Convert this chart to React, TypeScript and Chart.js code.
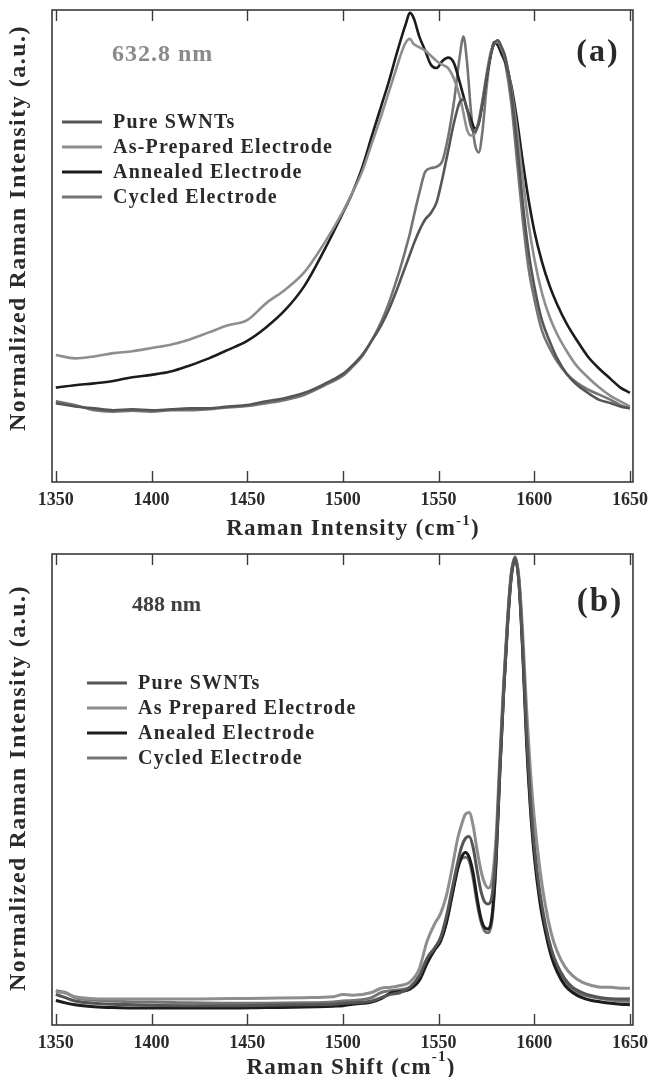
import React, { useEffect, useRef } from "react";
import { Chart, registerables } from "chart.js";

Chart.register(...registerables);

const FONT = '"Liberation Serif", "Times New Roman", Times, serif';

// ---------- shared ----------
const xTicks = [1350, 1400, 1450, 1500, 1550, 1600, 1650];
const seriesColors = ["#555555", "#8e8e8e", "#1c1c1c", "#747474"];

// ---------- panel (a): 632.8 nm ----------
const labelsA = ["Pure SWNTs", "As-Prepared Electrode", "Annealed Electrode", "Cycled Electrode"];
const shiftA = [1350, 1360, 1370, 1380, 1390, 1400, 1410, 1420, 1430, 1440, 1450, 1460, 1470, 1480, 1490, 1500, 1505, 1510, 1515, 1520, 1524, 1528, 1531, 1533, 1535, 1537, 1540, 1543, 1546, 1549, 1552, 1555, 1558, 1561, 1563, 1565, 1567, 1569, 1571, 1573, 1575, 1577, 1579, 1581, 1583, 1585, 1588, 1591, 1594, 1597, 1600, 1604, 1608, 1612, 1617, 1622, 1628, 1634, 1640, 1645, 1650];
const pureA = [16.7, 16.0, 15.6, 15.2, 15.4, 15.2, 15.4, 15.6, 15.6, 16.0, 16.3, 17.1, 17.8, 18.9, 20.7, 22.9, 24.7, 26.9, 29.9, 33.2, 36.5, 40.5, 43.8, 46.0, 48.2, 50.4, 53.3, 55.6, 57.0, 59.3, 64.3, 70.1, 76.0, 80.4, 81.1, 78.9, 75.3, 74.2, 76.0, 80.4, 85.5, 89.9, 92.8, 93.6, 92.1, 89.9, 82.6, 71.6, 59.2, 48.9, 41.6, 34.3, 29.9, 26.2, 22.9, 20.7, 18.9, 17.4, 16.7, 16.0, 15.6];
const asPrepA = [26.9, 26.2, 26.6, 27.3, 27.7, 28.4, 29.1, 30.2, 31.7, 33.2, 34.3, 37.9, 40.8, 44.5, 50.4, 57.3, 61.3, 65.7, 71.6, 77.5, 82.6, 87.7, 91.4, 93.2, 93.9, 92.8, 92.1, 91.4, 90.3, 89.2, 88.4, 87.7, 85.5, 81.8, 78.2, 74.5, 73.4, 73.8, 76.7, 81.1, 86.2, 90.6, 92.8, 93.2, 91.7, 89.5, 83.3, 74.5, 64.3, 54.8, 47.4, 40.1, 35.0, 31.3, 27.7, 24.7, 22.2, 20.0, 18.2, 17.1, 16.0];
const annealedA = [20.0, 20.5, 20.9, 21.4, 22.2, 22.7, 23.4, 24.7, 26.2, 28.0, 29.9, 32.8, 36.5, 41.6, 48.9, 57.0, 61.3, 66.5, 73.1, 79.6, 84.8, 90.6, 94.7, 97.2, 99.4, 98.3, 94.3, 91.4, 88.4, 87.7, 89.2, 89.9, 88.8, 84.8, 81.8, 78.9, 76.7, 74.9, 76.0, 80.4, 85.5, 89.9, 93.2, 92.5, 90.6, 88.8, 84.0, 76.7, 67.9, 59.9, 53.3, 46.7, 41.6, 37.6, 33.5, 30.2, 26.6, 24.0, 21.8, 20.0, 18.9];
const cycledA = [17.1, 16.3, 15.2, 14.9, 15.1, 14.9, 15.2, 15.2, 15.4, 15.8, 16.1, 16.7, 17.4, 18.5, 20.4, 22.5, 24.4, 26.6, 29.9, 33.9, 37.9, 42.7, 46.7, 49.6, 52.6, 56.2, 61.3, 65.7, 66.5, 66.8, 68.0, 73.1, 80.4, 89.9, 94.4, 88.4, 78.2, 71.6, 69.8, 74.5, 83.3, 89.9, 92.8, 93.2, 91.7, 88.4, 80.4, 68.0, 55.6, 45.4, 38.9, 32.1, 28.4, 25.5, 22.9, 21.1, 19.6, 18.5, 17.4, 16.3, 15.6];

// ---------- panel (b): 488 nm ----------
const labelsB = ["Pure SWNTs", "As Prepared Electrode", "Anealed Electrode", "Cycled Electrode"];
const shiftB = [1350, 1355, 1360, 1370, 1380, 1390, 1400, 1420, 1440, 1460, 1480, 1495, 1500, 1505, 1515, 1520, 1525, 1530, 1535, 1540, 1544, 1548, 1551, 1554, 1557, 1560, 1562, 1564, 1566, 1568, 1570, 1572, 1574, 1576, 1578, 1580, 1582, 1584, 1586, 1588, 1590, 1592, 1594, 1596, 1598, 1600, 1603, 1606, 1609, 1612, 1616, 1620, 1625, 1630, 1635, 1640, 1645, 1650];
const pureB = [6.5, 5.8, 5.1, 4.6, 4.4, 4.3, 4.2, 4.1, 4.1, 4.2, 4.3, 4.4, 4.6, 4.7, 5.1, 5.8, 6.5, 6.9, 8.0, 10.5, 14.2, 16.4, 18.5, 22.9, 28.7, 34.5, 37.8, 39.6, 40.0, 37.8, 33.1, 28.7, 26.2, 25.7, 27.6, 36.5, 54.5, 71.0, 85.0, 95.5, 99.1, 94.0, 80.0, 62.0, 48.0, 38.0, 28.0, 21.0, 16.0, 12.7, 9.8, 8.0, 6.9, 6.2, 5.8, 5.6, 5.5, 5.5];
const asPrepB = [7.1, 6.8, 6.0, 5.6, 5.5, 5.5, 5.5, 5.5, 5.6, 5.7, 5.8, 6.0, 6.5, 6.3, 6.9, 7.8, 8.0, 8.4, 9.1, 12.0, 17.8, 21.5, 23.6, 27.3, 33.1, 39.6, 42.5, 44.7, 45.1, 42.5, 37.5, 33.1, 30.2, 29.1, 30.9, 39.5, 56.5, 72.5, 86.0, 96.0, 99.0, 95.0, 83.0, 67.0, 54.0, 44.0, 33.0, 25.0, 19.3, 15.6, 12.4, 10.5, 9.1, 8.4, 8.0, 8.0, 7.8, 7.8];
const annealedB = [5.2, 4.7, 4.3, 3.9, 3.7, 3.6, 3.6, 3.6, 3.6, 3.7, 3.8, 4.0, 4.1, 4.4, 4.9, 5.6, 6.8, 7.1, 7.6, 9.5, 13.1, 16.0, 17.8, 21.5, 27.3, 33.1, 35.6, 36.6, 35.6, 32.4, 27.3, 22.9, 20.7, 20.4, 23.3, 34.5, 53.5, 70.5, 84.5, 95.0, 98.9, 94.0, 79.0, 60.0, 46.0, 36.0, 26.0, 19.5, 14.5, 11.3, 8.4, 6.9, 5.8, 5.2, 4.9, 4.6, 4.4, 4.3];
const cycledB = [7.3, 6.9, 5.8, 5.3, 5.1, 4.9, 4.9, 4.7, 4.6, 4.6, 4.7, 4.9, 5.1, 5.2, 5.8, 6.9, 7.3, 7.5, 8.0, 10.2, 13.8, 16.0, 17.7, 21.8, 27.6, 33.5, 35.3, 35.6, 34.9, 31.3, 26.2, 22.2, 20.0, 19.6, 22.5, 34.0, 53.5, 70.5, 85.0, 95.5, 99.4, 94.5, 80.0, 61.0, 47.0, 37.0, 27.0, 20.5, 15.3, 12.0, 9.1, 7.5, 6.5, 6.0, 5.6, 5.3, 5.1, 5.0];

type PanelCfg = {
  height: number;
  top: number;
  xs: number[];
  ys: number[][];
  labels: string[];
  lineWidth: number;
  padTop: number;
  axisH: number;
  laser: string;
  laserColor: string;
  laserX: number;
  laserY: number;
  laserSize: number;
  laserSpacing: number;
  tag: string;
  tagX: number;
  tagY: number;
  tagSize: number;
  xTitle: string;
  xTitleX: number;
  xTitleBase: number;
  supRaise: number;
  yTitleY: number;
  legX: number;
  legY0: number;
};

const panelA: PanelCfg = {
  height: 540,
  top: 0,
  xs: shiftA,
  ys: [pureA, asPrepA, annealedA, cycledA],
  labels: labelsA,
  lineWidth: 2.6,
  padTop: 10,
  axisH: 58,
  laser: "632.8 nm",
  laserColor: "#8a8a8a",
  laserX: 112,
  laserY: 55,
  laserSize: 24,
  laserSpacing: 1,
  tag: "(a)",
  tagX: 598,
  tagY: 53,
  tagSize: 32,
  xTitle: "Raman Intensity (cm",
  xTitleX: 353,
  xTitleBase: 535,
  supRaise: 10,
  yTitleY: 228,
  legX: 62,
  legY0: 122,
};

const panelB: PanelCfg = {
  height: 537,
  top: 540,
  xs: shiftB,
  ys: [pureB, asPrepB, annealedB, cycledB],
  labels: labelsB,
  lineWidth: 3,
  padTop: 14,
  axisH: 52,
  laser: "488 nm",
  laserColor: "#404040",
  laserX: 132,
  laserY: 65,
  laserSize: 22,
  laserSpacing: 0,
  tag: "(b)",
  tagX: 600,
  tagY: 62,
  tagSize: 33,
  xTitle: "Raman Shift (cm",
  xTitleX: 351,
  xTitleBase: 534,
  supRaise: 13,
  yTitleY: 248,
  legX: 87,
  legY0: 143,
};

function Panel({ cfg }: { cfg: PanelCfg }) {
  const ref = useRef<HTMLCanvasElement>(null);

  useEffect(() => {
    const canvas = ref.current;
    if (!canvas) return;

    const overlay = {
      id: "overlay",
      afterDatasetsDraw(chart: any) {
        const ctx = chart.ctx as CanvasRenderingContext2D;
        const a = chart.chartArea;
        const xs = chart.scales.x;
        ctx.save();
        ctx.strokeStyle = "#3a3a3a";
        ctx.lineWidth = 1.6;
        ctx.strokeRect(a.left, a.top, a.right - a.left, a.bottom - a.top);
        ctx.lineWidth = 1.4;
        for (const v of xTicks) {
          const px = Math.round(xs.getPixelForValue(v)) + 0.5;
          ctx.beginPath();
          ctx.moveTo(px, a.bottom);
          ctx.lineTo(px, a.bottom - 11);
          ctx.moveTo(px, a.top);
          ctx.lineTo(px, a.top + 11);
          ctx.stroke();
        }
        ctx.restore();
      },
      afterDraw(chart: any) {
        const ctx = chart.ctx as any;
        ctx.save();
        ctx.fillStyle = "#2a2a2a";

        // legend
        ctx.font = `bold 20px ${FONT}`;
        ctx.letterSpacing = "1.2px";
        ctx.textAlign = "left";
        ctx.textBaseline = "middle";
        chart.data.datasets.forEach((ds: any, i: number) => {
          const y = cfg.legY0 + i * 25;
          ctx.strokeStyle = ds.borderColor;
          ctx.lineWidth = 3;
          ctx.beginPath();
          ctx.moveTo(cfg.legX, y);
          ctx.lineTo(cfg.legX + 40, y);
          ctx.stroke();
          ctx.fillStyle = "#2a2a2a";
          ctx.fillText(ds.label, cfg.legX + 51, y + 1);
        });

        // laser wavelength
        ctx.font = `bold ${cfg.laserSize}px ${FONT}`;
        ctx.letterSpacing = `${cfg.laserSpacing}px`;
        ctx.fillStyle = cfg.laserColor;
        ctx.fillText(cfg.laser, cfg.laserX, cfg.laserY);

        // panel tag
        ctx.font = `bold ${cfg.tagSize}px ${FONT}`;
        ctx.letterSpacing = "2px";
        ctx.fillStyle = "#2a2a2a";
        ctx.textAlign = "center";
        ctx.fillText(cfg.tag, cfg.tagX, cfg.tagY);

        // x title with superscript
        ctx.textAlign = "left";
        ctx.textBaseline = "alphabetic";
        ctx.letterSpacing = "1.2px";
        ctx.font = `bold 23px ${FONT}`;
        const w1 = ctx.measureText(cfg.xTitle).width;
        const w3 = ctx.measureText(")").width;
        ctx.font = `bold 15px ${FONT}`;
        const w2 = ctx.measureText("-1").width;
        const total = w1 + w2 + w3;
        const x0 = cfg.xTitleX - total / 2;
        ctx.font = `bold 23px ${FONT}`;
        ctx.fillText(cfg.xTitle, x0, cfg.xTitleBase);
        ctx.font = `bold 15px ${FONT}`;
        ctx.fillText("-1", x0 + w1, cfg.xTitleBase - cfg.supRaise);
        ctx.font = `bold 23px ${FONT}`;
        ctx.fillText(")", x0 + w1 + w2, cfg.xTitleBase);

        // y title
        ctx.save();
        ctx.translate(19, cfg.yTitleY);
        ctx.rotate(-Math.PI / 2);
        ctx.font = `bold 24px ${FONT}`;
        ctx.letterSpacing = "1.5px";
        ctx.textAlign = "center";
        ctx.textBaseline = "middle";
        ctx.fillText("Normalized Raman Intensity (a.u.)", 0, 0);
        ctx.restore();

        ctx.restore();
      },
    };

    const chart = new Chart(canvas, {
      type: "line",
      data: {
        datasets: cfg.ys.map((ys, i) => ({
          label: cfg.labels[i],
          data: cfg.xs.map((x, j) => ({ x, y: ys[j] })),
          borderColor: seriesColors[i],
          backgroundColor: seriesColors[i],
          borderWidth: cfg.lineWidth,
          pointRadius: 0,
          fill: false,
          cubicInterpolationMode: "monotone" as const,
        })),
      },
      options: {
        animation: false,
        responsive: false,
        maintainAspectRatio: false,
        layout: { padding: { left: 52, right: 17, top: cfg.padTop, bottom: 0 } },
        plugins: { legend: { display: false }, tooltip: { enabled: false } },
        scales: {
          x: {
            type: "linear",
            min: 1348,
            max: 1651.6,
            afterBuildTicks: (s: any) => {
              s.ticks = xTicks.map((v) => ({ value: v }));
            },
            afterFit: (s: any) => {
              s.height = cfg.axisH;
            },
            grid: { display: false, drawTicks: false },
            border: { display: false },
            ticks: {
              font: { family: FONT, size: 18, weight: "bold" },
              color: "#2a2a2a",
              padding: 8,
              maxRotation: 0,
              autoSkip: false,
              callback: (v: any) => String(v),
            },
          },
          y: { display: false, min: 0, max: 100 },
        },
      },
      plugins: [overlay],
    } as any);

    return () => chart.destroy();
  }, [cfg]);

  return (
    <canvas
      ref={ref}
      width={656}
      height={cfg.height}
      style={{ position: "absolute", left: 0, top: cfg.top, display: "block" }}
    />
  );
}

export default function App() {
  return (
    <div
      style={{
        position: "absolute",
        left: 0,
        top: 0,
        width: 656,
        height: 1077,
        background: "#ffffff",
        overflow: "hidden",
      }}
    >
      <Panel cfg={panelA} />
      <Panel cfg={panelB} />
    </div>
  );
}
